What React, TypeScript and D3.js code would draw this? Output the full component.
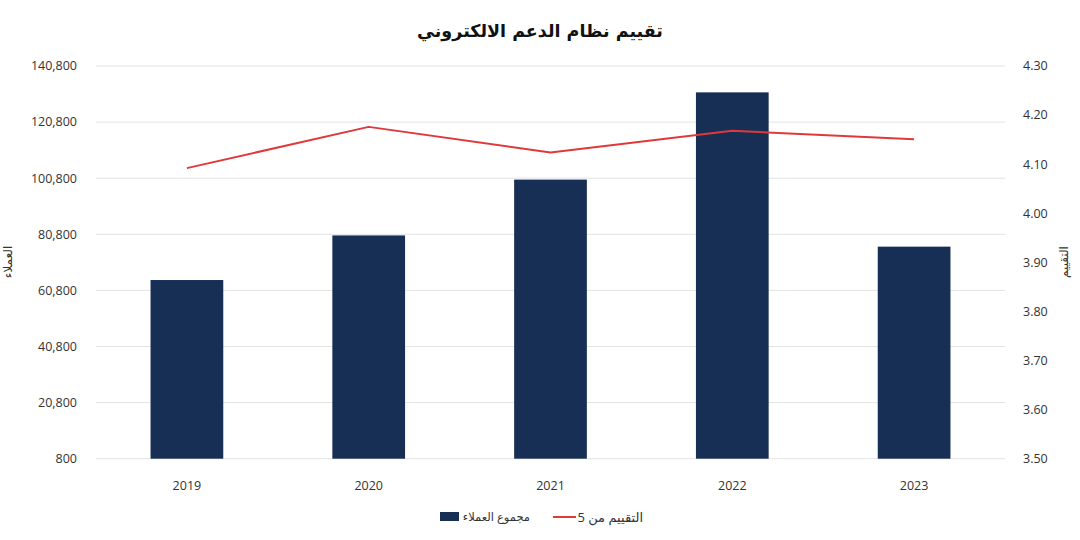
import React from "react";
import * as d3 from "d3";

const years = ["2019", "2020", "2021", "2022", "2023"];
const customers = [64500, 80400, 100300, 131400, 76400];
const ratings = [4.092, 4.176, 4.124, 4.168, 4.151];
const leftTicks = [800, 20800, 40800, 60800, 80800, 100800, 120800, 140800];
const rightTicks = [3.5, 3.6, 3.7, 3.8, 3.9, 4.0, 4.1, 4.2, 4.3];

const title = "تقييم نظام الدعم الالكتروني";
const leftTitle = "العملاء";
const rightTitle = "التقييم";
const barLegend = "مجموع العملاء";
const lineLegend = "التقييم من 5";

const W = 1080;
const H = 540;
const M = { left: 96, right: 1005, top: 66, bottom: 458.7 };
const FONT = "'Open Sans', 'Noto Sans', 'DejaVu Sans', sans-serif";
const BAR = "#172f55";
const LINE = "#e0393b";
const TEXT = "#333333";

export default function App() {
  const x = d3.scaleBand<string>().domain(years).range([M.left, M.right]).paddingInner(0.6).paddingOuter(0.3);
  const yL = d3.scaleLinear().domain([800, 140800]).range([M.bottom, M.top]);
  const yR = d3.scaleLinear().domain([3.5, 4.3]).range([M.bottom, M.top]);
  const line = d3
    .line<number>()
    .x((_, i) => (x(years[i]) as number) + x.bandwidth() / 2)
    .y((d) => yR(d));
  const fmt = d3.format(",");

  return (
    <svg width={W} height={H} style={{ position: "absolute", left: 0, top: 0, background: "#fff" }} fontFamily={FONT}>
      <rect width={W} height={H} fill="#fff" />
      <text x={540} y={37} textAnchor="middle" fontSize={17.5} fontWeight="bold" fill="#111" direction="rtl" fontFamily="'DejaVu Sans', sans-serif">
        {title}
      </text>
      {leftTicks.map((t) => (
        <g key={"g" + t}>
          <line x1={M.left} x2={M.right} y1={yL(t)} y2={yL(t)} stroke="#e3e3e3" strokeWidth={1} />
          <text x={77} y={yL(t)} dy="0.35em" textAnchor="end" fontSize={12.5} fill={TEXT}>
            {fmt(t)}
          </text>
        </g>
      ))}
      {rightTicks.map((t) => (
        <text key={"r" + t} x={1023} y={yR(t)} dy="0.35em" textAnchor="start" fontSize={12.5} fill={TEXT}>
          {t.toFixed(2)}
        </text>
      ))}
      {years.map((yv, i) => (
        <rect key={"b" + yv} x={x(yv)} y={yL(customers[i])} width={x.bandwidth()} height={yL(800) - yL(customers[i])} fill={BAR} />
      ))}
      <path d={line(ratings) || ""} fill="none" stroke={LINE} strokeWidth={2} strokeLinejoin="round" />
      {years.map((yv) => (
        <text key={"x" + yv} x={(x(yv) as number) + x.bandwidth() / 2} y={486} dy="0.35em" textAnchor="middle" fontSize={12.5} fill={TEXT}>
          {yv}
        </text>
      ))}
      <text transform="translate(12,262) rotate(-90)" textAnchor="middle" fontSize={12} fill={TEXT} direction="rtl">
        {leftTitle}
      </text>
      <text transform="translate(1068,262) rotate(-90)" textAnchor="middle" fontSize={12} fill={TEXT} direction="rtl">
        {rightTitle}
      </text>
      <rect x={440} y={512} width={19} height={9} fill={BAR} />
      <text x={530} y={517} dy="0.35em" textAnchor="start" direction="rtl" fontSize={11.5} fill={TEXT}>
        {barLegend}
      </text>
      <line x1={553} x2={576} y1={517} y2={517} stroke={LINE} strokeWidth={2} />
      <text x={643} y={517} dy="0.35em" textAnchor="start" direction="rtl" fontSize={13} fill={TEXT}>
        {lineLegend}
      </text>
    </svg>
  );
}
